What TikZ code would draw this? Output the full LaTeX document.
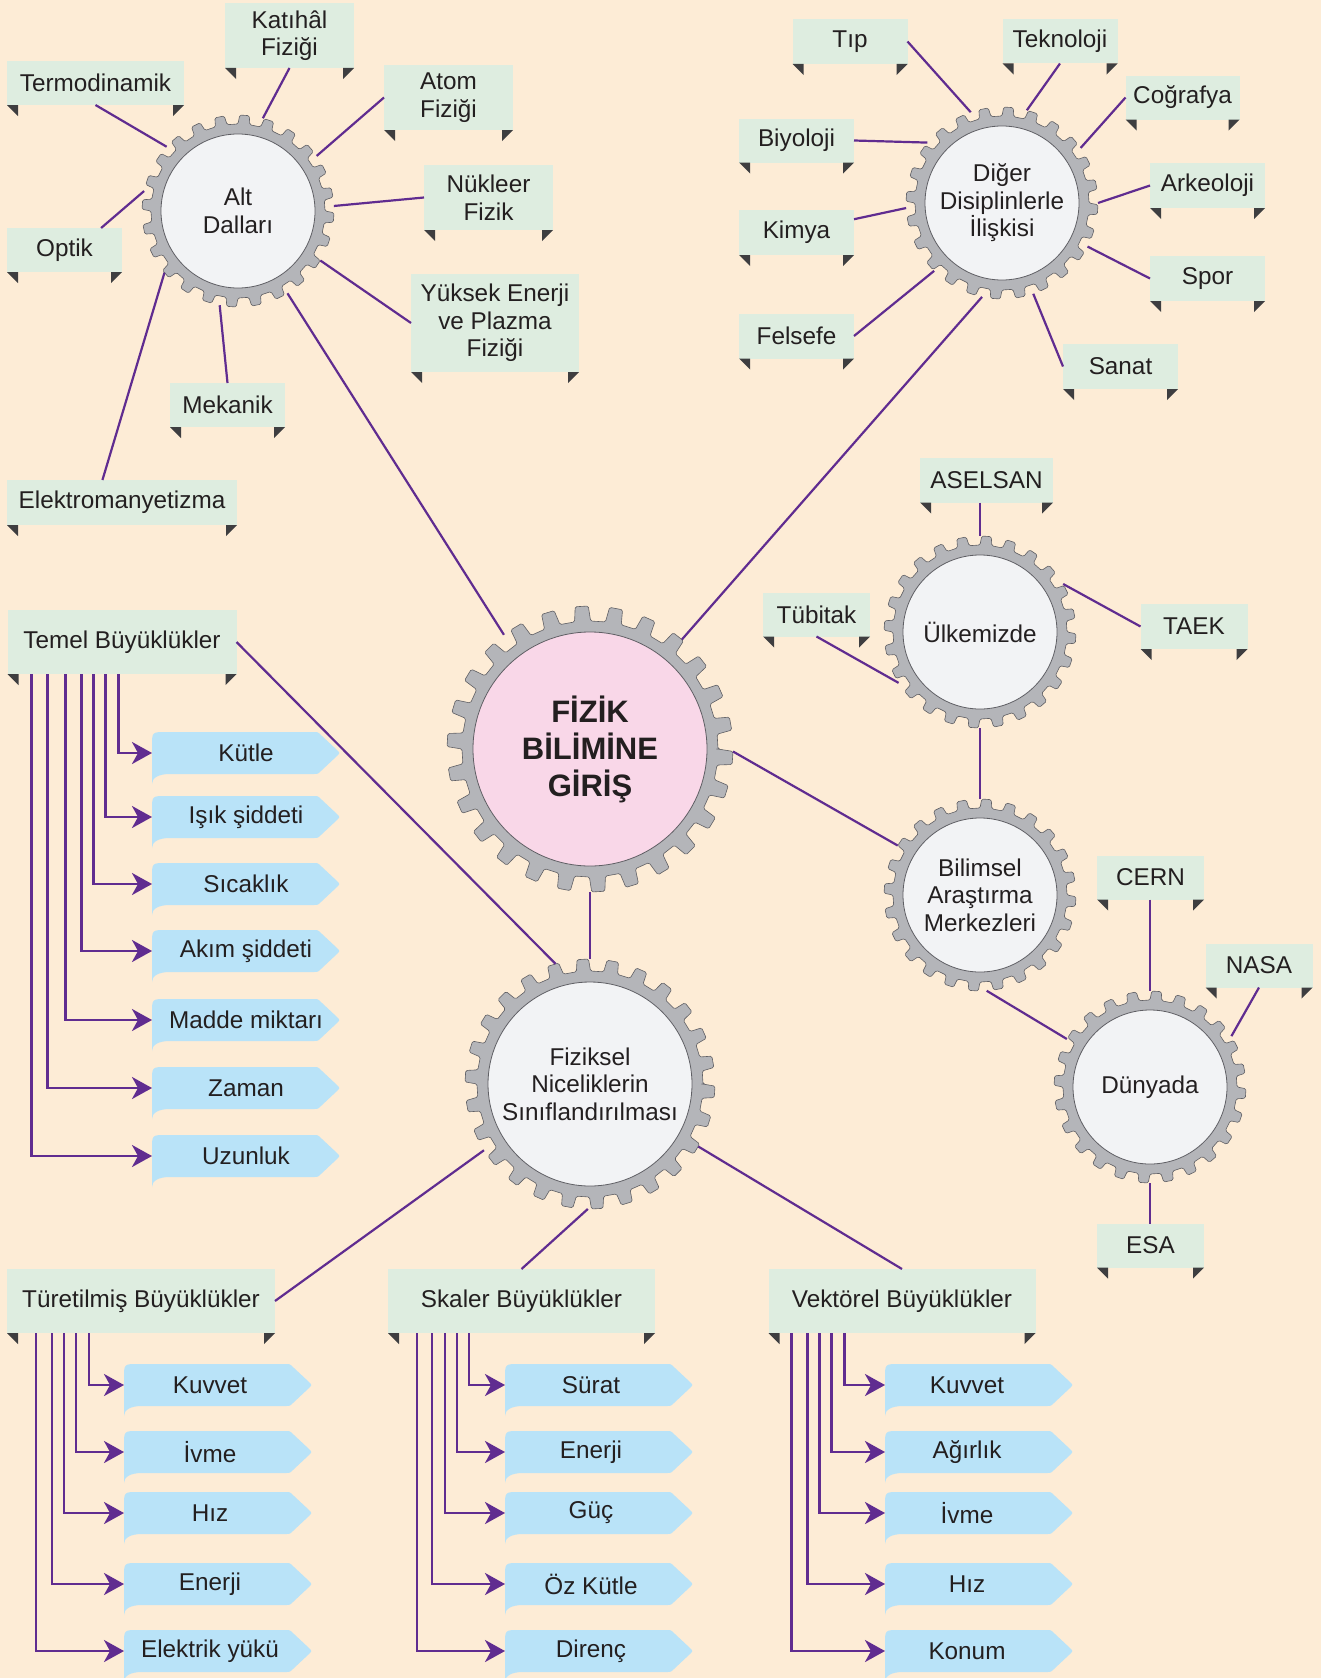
\documentclass[tikz,border=0pt]{standalone}
\usepackage{fontspec}
\setmainfont{Liberation Sans}
\usetikzlibrary{arrows.meta}

\definecolor{bgcol}{RGB}{253,236,214}
\definecolor{tagfill}{RGB}{222,237,224}
\definecolor{tagcorner}{RGB}{62,62,64}
\definecolor{itemfill}{RGB}{185,227,248}
\definecolor{linkcol}{RGB}{96,44,144}
\definecolor{hubgray}{RGB}{242,243,245}
\definecolor{hubpink}{RGB}{249,215,232}
\definecolor{gearlite}{RGB}{180,181,185}
\definecolor{gearmid}{RGB}{160,161,165}
\definecolor{geardark}{RGB}{132,133,137}
\definecolor{gearline}{RGB}{95,95,100}
\definecolor{txtcol}{RGB}{35,31,32}

\pgfdeclareradialshading{gearshade}{\pgfpoint{0bp}{0bp}}{color(0bp)=(gearlite); color(38bp)=(gearlite); color(43bp)=(gearmid); color(50bp)=(geardark)}

\newcommand\lbl{\fontsize{24.3}{27.5}\selectfont}

% teeth ring + hub: position, tip, root, hub radius, teeth, hub colour
\newcommand\gearshape[6]{%
  \begin{scope}[shift={#1}]
    \pgfmathsetmacro\gstep{360/#5}
    \shadedraw[shading=gearshade, draw=gearline, line width=0.6pt, rounded corners=1.5pt]
      (0:#3) \foreach \k in {1,...,#5}{
        -- ({(\k-1)*\gstep+0.07*\gstep}:#2) -- ({(\k-1)*\gstep+0.45*\gstep}:#2)
        -- ({(\k-1)*\gstep+0.52*\gstep}:#3) -- ({\k*\gstep}:#3)} -- cycle;
    \filldraw[fill=#6, draw=gearline, line width=0.8pt] (0,0) circle[radius=#4];
  \end{scope}}

% blue answer box: [text shift], name, position, text
\newcommand\itembox[4][0]{%
  \begin{scope}[shift={#3}]
    \fill[itemfill] (-94,31) -- (-94,-7) .. controls (-94,-21) .. (-80,-21) -- (68,-21)
      .. controls (72,-21) .. (76,-17) -- (91,-3) .. controls (94,0) .. (91,3) -- (76,17)
      .. controls (72,21) .. (68,21) -- (-76,21) .. controls (-88,21) and (-94,25) .. (-94,31) -- cycle;
  \end{scope}
  \node[qbox] (#2) at #3 {\hspace*{#1pt}#4};}

% green label: name, position, width, height, text
\newcommand\tagbox[5]{%
  \node[lbox, minimum width=#3, minimum height=#4] (#1) at #2 {#5};
  \fill[tagcorner] (#1.south west) -- ++(11,0) -- ++(0,11) -- cycle
                   (#1.south east) -- ++(-11,0) -- ++(0,11) -- cycle;}

\tikzset{
  lbox/.style={rectangle, fill=tagfill, inner sep=0pt, outer sep=0pt, align=center, font=\lbl, text=txtcol},
  qbox/.style={rectangle, minimum width=188, minimum height=42, inner sep=0pt, outer sep=0pt, font=\lbl, text=txtcol},
  gear/.style={circle, inner sep=0pt, outer sep=0pt, minimum size=2*#1, align=center, font=\lbl, text=txtcol},
  conn/.style={linkcol, line width=2.2pt},
  listarrow/.style={linkcol, line width=2.6pt, -{Stealth[length=20pt, width=22pt, inset=6pt]}}
}

\begin{document}
\begin{tikzpicture}[x=1pt, y=-1pt]
    \useasboundingbox (0,0) rectangle (1321,1678);
    \fill[bgcol] (0,0) rectangle (1321,1678);

    % Draw gears
    \gearshape{(590,749)}{143}{128}{117}{26}{hubpink}
    \gearshape{(238,211)}{96}{87}{77}{24}{hubgray}
    \gearshape{(1002,203)}{96}{87}{77}{24}{hubgray}
    \gearshape{(980,632)}{96}{87}{77}{24}{hubgray}
    \gearshape{(980,895)}{96}{87}{77}{24}{hubgray}
    \gearshape{(1150,1087)}{96}{87}{77}{24}{hubgray}
    \gearshape{(590,1084)}{125}{113}{102}{26}{hubgray}

    \node[gear=143, font=\fontsize{31}{37}\bfseries\selectfont] (fizik) at (590,749) {FİZİK\\BİLİMİNE\\GİRİŞ};
    \node[gear=96] (alt) at (238,211) {Alt\\Dalları};
    \node[gear=96] (diger) at (1002,203) {Diğer\\Disiplinlerle\\İlişkisi};
    \node[gear=96] (ulke) at (980,632) {Ülkemizde};
    \node[gear=96] (bilimsel) at (980,895) {Bilimsel\\Araştırma\\Merkezleri};
    \node[gear=96] (dunya) at (1150,1087) {Dünyada};
    \node[gear=125] (siniflama) at (590,1084) {Fiziksel\\Niceliklerin\\Sınıflandırılması};

    % Draw labels round Alt Dallari
    \tagbox{termo}{(95.5,83)}{177}{44}{Termodinamik}
    \tagbox{katihal}{(289.5,35.5)}{129}{65}{Katıhâl\\Fiziği}
    \tagbox{atom}{(448.5,97.5)}{129}{65}{Atom\\Fiziği}
    \tagbox{nukleer}{(488.5,197.5)}{129}{65}{Nükleer\\Fizik}
    \tagbox{yuksek}{(495,323)}{168}{98}{Yüksek Enerji\\ve Plazma\\Fiziği}
    \tagbox{optik}{(64.5,250)}{115}{44}{Optik}
    \tagbox{mekanik}{(227.5,405)}{115}{44}{Mekanik}
    \tagbox{elektro}{(122,502.5)}{230}{45}{Elektromanyetizma}

    % Draw labels round Diger Disiplinler
    \tagbox{tip}{(850,41.5)}{115}{45}{Tıp}
    \tagbox{teknoloji}{(1060,41.5)}{115}{44}{Teknoloji}
    \tagbox{cografya}{(1182.5,97.5)}{114}{44}{Coğrafya}
    \tagbox{biyoloji}{(796.5,140.5)}{115}{44}{Biyoloji}
    \tagbox{kimya}{(796.5,232.5)}{115}{45}{Kimya}
    \tagbox{felsefe}{(796.5,336)}{115}{45}{Felsefe}
    \tagbox{arkeoloji}{(1207.5,185.5)}{115}{45}{Arkeoloji}
    \tagbox{spor}{(1207.5,278.5)}{115}{45}{Spor}
    \tagbox{sanat}{(1120.5,366.5)}{115}{45}{Sanat}

    % Draw research centre labels
    \tagbox{aselsan}{(986.5,480)}{133}{45}{ASELSAN}
    \tagbox{tubitak}{(816.5,614.5)}{107}{44}{Tübitak}
    \tagbox{taek}{(1194,626.5)}{107}{45}{TAEK}
    \tagbox{cern}{(1150.5,877.5)}{107}{44}{CERN}
    \tagbox{nasa}{(1259,965.5)}{107}{44}{NASA}
    \tagbox{esa}{(1150.5,1245.5)}{107}{44}{ESA}

    % Draw quantity headers
    \tagbox{temel}{(122,642)}{229}{64}{Temel Büyüklükler}
    \tagbox{turetilmis}{(141,1301)}{268}{64}{Türetilmiş Büyüklükler}
    \tagbox{skaler}{(521.5,1301)}{267}{64}{Skaler Büyüklükler}
    \tagbox{vektorel}{(902,1301)}{267}{64}{Vektörel Büyüklükler}

    % Draw quantity boxes
    \itembox{kutle}{(246,753)}{Kütle}
    \itembox{isik}{(246,817)}{Işık şiddeti}
    \itembox{sicaklik}{(246,884)}{Sıcaklık}
    \itembox{akim}{(246,951)}{Akım şiddeti}
    \itembox{madde}{(246,1020)}{Madde miktarı}
    \itembox{zaman}{(246,1088)}{Zaman}
    \itembox{uzunluk}{(246,1156)}{Uzunluk}

    \itembox[-16]{kuvvetT}{(218,1385)}{Kuvvet}
    \itembox[-16]{ivmeT}{(218,1452)}{İvme}
    \itembox[-16]{hizT}{(218,1513)}{Hız}
    \itembox[-16]{enerjiT}{(218,1584)}{Enerji}
    \itembox[-16]{yuk}{(218,1651)}{Elektrik yükü}

    \itembox[-16]{surat}{(599,1385)}{Sürat}
    \itembox[-16]{enerjiS}{(599,1452)}{Enerji}
    \itembox[-16]{guc}{(599,1513)}{Güç}
    \itembox[-16]{ozkutle}{(599,1584)}{Öz Kütle}
    \itembox[-16]{direnc}{(599,1651)}{Direnç}

    \itembox[-24]{kuvvetV}{(979,1385)}{Kuvvet}
    \itembox[-24]{agirlik}{(979,1452)}{Ağırlık}
    \itembox[-24]{ivmeV}{(979,1513)}{İvme}
    \itembox[-24]{hizV}{(979,1584)}{Hız}
    \itembox[-24]{konum}{(979,1651)}{Konum}

    % Draw communication lines
    \draw[conn] (termo.south) -- (alt.138);
    \draw[conn] (katihal.south) -- (alt.75);
    \draw[conn] (atom.west) -- (alt.35);
    \draw[conn] (nukleer.west) -- (alt.3);
    \draw[conn] (yuksek.west) -- (alt.-31);
    \draw[conn] (optik.31) -- (alt.168);
    \draw[conn] (mekanik.north) -- (alt.-101);
    \draw[conn] (elektro.131) -- (alt.220);
    \draw[conn] (alt.-59) -- (fizik.127);

    \draw[conn] (tip.east) -- (diger.109);
    \draw[conn] (teknoloji.south) -- (diger.75);
    \draw[conn] (cografya.west) -- (diger.35);
    \draw[conn] (biyoloji.east) -- (diger.141);
    \draw[conn] (kimya.13) -- (diger.183);
    \draw[conn] (felsefe.east) -- (diger.225);
    \draw[conn] (arkeoloji.west) -- (diger.0);
    \draw[conn] (spor.west) -- (diger.-27);
    \draw[conn] (sanat.west) -- (diger.-71);
    \draw[conn] (diger.-102) -- (fizik.50);

    \draw[conn] (aselsan.south -| ulke) -- (ulke);
    \draw[conn] (tubitak.south) -- (ulke.212);
    \draw[conn] (taek.west) -- (ulke.30);
    \draw[conn] (ulke) -- (bilimsel);
    \draw[conn] (fizik.-1) -- (bilimsel.149);
    \draw[conn] (bilimsel.-86) -- (dunya.150);
    \draw[conn] (cern.south -| dunya) -- (dunya);
    \draw[conn] (nasa.south) -- (dunya.32);
    \draw[conn] (dunya) -- (esa.north -| dunya);

    \draw[conn] (fizik) -- (siniflama);
    \draw[conn] (temel.east) -- (siniflama.106);
    \draw[conn] (turetilmis.east) -- (siniflama.212);
    \draw[conn] (skaler.north) -- (siniflama.-91);
    \draw[conn] (vektorel.north) -- (siniflama.-30);

    % Draw list arrows
    \draw[listarrow] (temel.south west) ++(111,0) |- (kutle.west);
    \draw[listarrow] (temel.south west) ++(98,0) |- (isik.west);
    \draw[listarrow] (temel.south west) ++(86,0) |- (sicaklik.west);
    \draw[listarrow] (temel.south west) ++(74,0) |- (akim.west);
    \draw[listarrow] (temel.south west) ++(58,0) |- (madde.west);
    \draw[listarrow] (temel.south west) ++(40,0) |- (zaman.west);
    \draw[listarrow] (temel.south west) ++(24,0) |- (uzunluk.west);

    \draw[listarrow] (turetilmis.south west) ++(82,0) |- (kuvvetT.west);
    \draw[listarrow] (turetilmis.south west) ++(69,0) |- (ivmeT.west);
    \draw[listarrow] (turetilmis.south west) ++(57,0) |- (hizT.west);
    \draw[listarrow] (turetilmis.south west) ++(45,0) |- (enerjiT.west);
    \draw[listarrow] (turetilmis.south west) ++(29,0) |- (yuk.west);

    \draw[listarrow] (skaler.south west) ++(81,0) |- (surat.west);
    \draw[listarrow] (skaler.south west) ++(69,0) |- (enerjiS.west);
    \draw[listarrow] (skaler.south west) ++(57,0) |- (guc.west);
    \draw[listarrow] (skaler.south west) ++(44,0) |- (ozkutle.west);
    \draw[listarrow] (skaler.south west) ++(29,0) |- (direnc.west);

    \draw[listarrow] (vektorel.south west) ++(76,0) |- (kuvvetV.west);
    \draw[listarrow] (vektorel.south west) ++(63,0) |- (agirlik.west);
    \draw[listarrow] (vektorel.south west) ++(51,0) |- (ivmeV.west);
    \draw[listarrow] (vektorel.south west) ++(39,0) |- (hizV.west);
    \draw[listarrow] (vektorel.south west) ++(23,0) |- (konum.west);
\end{tikzpicture}
\end{document}
